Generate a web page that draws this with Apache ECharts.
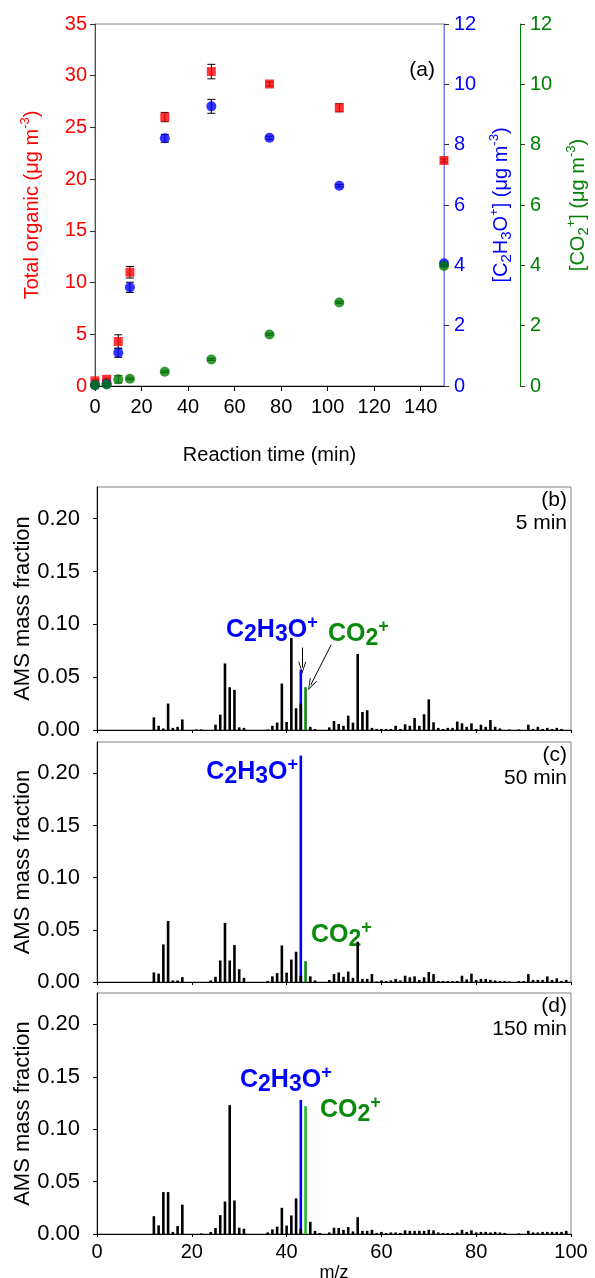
<!DOCTYPE html>
<html><head><meta charset="utf-8">
<script src="https://cdn.jsdelivr.net/npm/echarts@6/dist/echarts.min.js"></script>
<style>html,body{margin:0;padding:0;background:#fff}#c{width:595px;height:1278px}</style>
</head><body><div id="c"></div>
<script>
const FONT = 'Liberation Sans, Arial, sans-serif';

// ---- Panel (a) data ----
const timeMin = [0, 5, 10, 15, 30, 50, 75, 105, 150];
const totalOrganic = [0.5, 0.65, 4.3, 11.0, 26.0, 30.4, 29.2, 26.9, 21.8];
const totalOrganicErr = [0.1, 0.1, 0.65, 0.56, 0.45, 0.7, 0.2, 0.39, 0.15];
const c2h3oConc = [0.03, 0.07, 1.1, 3.27, 8.21, 9.27, 8.23, 6.64, 4.07];
const c2h3oErr = [0.03, 0.03, 0.15, 0.17, 0.13, 0.23, 0.05, 0.04, 0.04];
const co2Conc = [0.03, 0.05, 0.22, 0.24, 0.47, 0.88, 1.71, 2.77, 3.98];
const co2Err = [0.03, 0.03, 0.12, 0.03, 0.03, 0.03, 0.03, 0.03, 0.03];

// ---- Spectra data (m/z 12..99) ----
const mz = [12,13,14,15,16,17,18,19,20,21,
  22,23,24,25,26,27,28,29,30,31,
  32,33,34,35,36,37,38,39,40,41,
  42,43,44,45,46,47,48,49,50,51,
  52,53,54,55,56,57,58,59,60,61,
  62,63,64,65,66,67,68,69,70,71,
  72,73,74,75,76,77,78,79,80,81,
  82,83,84,85,86,87,88,89,90,91,
  92,93,94,95,96,97,98,99];
const other5min = [0.012,0.004,0.0015,0.025,0.002,0.003,0.010,0,0,0.0005,
  0.0005,0,0,0.005,0.0145,0.063,0.0405,0.038,0.0025,0.002,
  0,0,0,0,0.0005,0.004,0.007,0.044,0.0076,0.087,
  0.0206,0.025,0,0.003,0.001,0,0,0.0025,0.0085,0.0057,
  0.004,0.0136,0.007,0.072,0.017,0.0187,0.002,0.001,0.001,0.001,
  0.001,0.004,0.001,0.0054,0.004,0.0114,0.004,0.0149,0.029,0.0073,
  0.002,0.001,0.002,0.002,0.008,0.0063,0.003,0.0063,0.001,0.005,
  0.003,0.0095,0.003,0.0015,0,0.0005,0,0.0005,0,0.005,
  0.001,0.003,0.001,0.002,0.001,0.002,0.001,0];
const other50min = [0.0092,0.008,0.036,0.0585,0.0015,0.0015,0.0047,0,0,0,
  0,0,0.0015,0.005,0.0206,0.0566,0.0206,0.0354,0.0123,0.004,
  0,0,0,0,0.001,0.0054,0.0085,0.035,0.009,0.0215,
  0.029,0.006,0,0.0054,0.0015,0,0,0.002,0.0076,0.0092,
  0.005,0.010,0.004,0.0386,0.003,0.003,0.0076,0.0005,0.0015,0.001,
  0.0015,0.003,0.0015,0.006,0.0045,0.0054,0.002,0.0045,0.0095,0.0076,
  0.001,0.001,0.001,0.001,0.001,0.006,0.0025,0.008,0.002,0.003,
  0.003,0.002,0.0015,0.001,0.001,0.0005,0,0.001,0.001,0.0076,
  0.002,0.002,0.002,0.0054,0.002,0.0035,0.001,0.002];
const other150min = [0.017,0.0082,0.040,0.040,0.002,0.0076,0.028,0,0,0,
  0.0005,0,0.002,0.0057,0.018,0.031,0.123,0.032,0.006,0.005,
  0,0,0,0,0.0015,0.0044,0.007,0.025,0.008,0.0177,
  0.034,0.005,0,0.0117,0.003,0.001,0,0.0015,0.006,0.0057,
  0.004,0.0066,0.0025,0.016,0.003,0.003,0.004,0.001,0.002,0.001,
  0.0015,0.0015,0.001,0.0035,0.003,0.003,0.003,0.003,0.004,0.0035,
  0.0015,0.001,0.001,0.001,0.0015,0.004,0.002,0.0035,0.0015,0.002,
  0.002,0.0015,0.002,0.0015,0.001,0,0,0.0005,0,0.003,
  0.0015,0.0015,0.002,0.002,0.002,0.002,0.002,0.003];
const c2h3oFraction = [0.032, 0.211, 0.123];   // m/z 43, stacked on the other m/z 43 part
const co2Fraction = [0.0405, 0.020, 0.122];    // m/z 44
const c2h3oMz = 43, co2Mz = 44;
const panelTags = ['(b)', '(c)', '(d)'];
const panelTimes = ['5 min', '50 min', '150 min'];
const otherSpectra = [other5min, other50min, other150min];
const co2BarColors = ['#0a8a0a', '#0a8a0a', '#22bb22'];

const chart = echarts.init(document.getElementById('c'), null, {renderer: 'canvas'});

function errRender(params, api) {
  const x = api.value(0), y = api.value(1), e = api.value(2);
  const hi = api.coord([x, y + e]), lo = api.coord([x, y - e]);
  const w = 4, st = {stroke: '#000', lineWidth: 1};
  return {type: 'group', children: [
    {type: 'line', shape: {x1: hi[0], y1: hi[1], x2: lo[0], y2: lo[1]}, style: st},
    {type: 'line', shape: {x1: hi[0] - w, y1: hi[1], x2: hi[0] + w, y2: hi[1]}, style: st},
    {type: 'line', shape: {x1: lo[0] - w, y1: lo[1], x2: lo[0] + w, y2: lo[1]}, style: st}
  ]};
}
const zip = (a, b) => a.map((v, i) => [v, b[i]]);
const zip3 = (a, b, c) => a.map((v, i) => [v, b[i], c[i]]);

const supRich = (color) => ({
  sup: {fontSize: 13, lineHeight: 13, verticalAlign: 'top', color, fontFamily: FONT},
  sub: {fontSize: 15, lineHeight: 15, verticalAlign: 'bottom', color, fontFamily: FONT}
});

const grids = [
  {left: 95, top: 24, width: 349, height: 362},
  {left: 97, top: 487, width: 474, height: 243},
  {left: 97, top: 742, width: 474, height: 240},
  {left: 97, top: 993, width: 474, height: 241}
].map(g => Object.assign(g, {show: true, borderColor: '#808080', borderWidth: 1,
  backgroundColor: 'transparent', containLabel: false, outerBoundsMode: 'none'}));

const xAxes = [{
  gridIndex: 0, type: 'value', min: 0, max: 150, interval: 20,
  axisLine: {lineStyle: {color: '#000', width: 1}},
  axisTick: {length: 5, lineStyle: {color: '#000'}},
  axisLabel: {fontSize: 20, color: '#000', margin: 11, fontFamily: FONT, showMaxLabel: false},
  splitLine: {show: false},
  name: 'Reaction time (min)', nameLocation: 'middle', nameGap: 59,
  nameTextStyle: {fontSize: 20, color: '#000', fontFamily: FONT}
}];
for (let p = 0; p < 3; p++) {
  xAxes.push({
    gridIndex: p + 1, type: 'value', min: 0, max: 100, interval: 20,
    axisLine: {lineStyle: {color: '#000', width: 1}},
    axisTick: {length: 3, lineStyle: {color: '#000'}},
    axisLabel: {show: p === 2, fontSize: 20, color: '#000', margin: 8, fontFamily: FONT},
    splitLine: {show: false},
    name: p === 2 ? 'm/z' : '', nameLocation: 'middle', nameGap: 30,
    nameTextStyle: {fontSize: 18, color: '#000', fontFamily: FONT}
  });
}

const yAxes = [
  {gridIndex: 0, type: 'value', position: 'left', min: 0, max: 35, interval: 5,
   axisLine: {show: true, lineStyle: {color: '#ff0000', width: 1}},
   axisTick: {show: true, length: 5, lineStyle: {color: '#333'}},
   axisLabel: {fontSize: 20, color: '#ff0000', margin: 8, fontFamily: FONT},
   splitLine: {show: false},
   name: 'Total organic (μg m{sup|-3})', nameLocation: 'middle', nameGap: 50,
   nameTextStyle: {fontSize: 20, color: '#ff0000', fontFamily: FONT, lineHeight: 26, rich: supRich('#ff0000')}},
  {gridIndex: 0, type: 'value', position: 'right', min: 0, max: 12, interval: 2,
   axisLine: {show: true, lineStyle: {color: '#8080ff', width: 1}},
   axisTick: {show: true, length: 5, lineStyle: {color: '#333'}},
   axisLabel: {fontSize: 20, color: '#0000ff', margin: 10, fontFamily: FONT},
   splitLine: {show: false},
   name: '[C{sub|2}H{sub|3}O{sup|+}] (μg m{sup|-3})', nameLocation: 'middle', nameGap: 44, nameRotate: 90,
   nameTextStyle: {fontSize: 20, color: '#0000ff', fontFamily: FONT, lineHeight: 26, rich: supRich('#0000ff')}},
  {gridIndex: 0, type: 'value', position: 'right', offset: 76, min: 0, max: 12, interval: 2,
   axisLine: {show: true, lineStyle: {color: '#008000', width: 1}},
   axisTick: {show: true, length: 5, lineStyle: {color: '#333'}},
   axisLabel: {fontSize: 20, color: '#008000', margin: 10, fontFamily: FONT},
   splitLine: {show: false},
   name: '[CO{sub|2}{sup|+}] (μg m{sup|-3})', nameLocation: 'middle', nameGap: 45, nameRotate: 90,
   nameTextStyle: {fontSize: 20, color: '#008000', fontFamily: FONT, lineHeight: 26, rich: supRich('#008000')}}
];
for (let p = 0; p < 3; p++) {
  yAxes.push({
    gridIndex: p + 1, type: 'value', min: 0, max: 0.23, interval: 0.05,
    axisLine: {show: true, lineStyle: {color: '#000', width: 1}},
    axisTick: {show: true, length: 4, lineStyle: {color: '#000'}},
    axisLabel: {fontSize: 22, color: '#000', margin: 17, fontFamily: FONT, showMaxLabel: false,
      formatter: v => v.toFixed(2)},
    splitLine: {show: false},
    name: 'AMS mass fraction', nameLocation: 'middle', nameGap: 63, nameMoveOverlap: false,
    nameTextStyle: {fontSize: 22, color: '#000', fontFamily: FONT}
  });
}

const series = [
  {type: 'custom', xAxisIndex: 0, yAxisIndex: 0, renderItem: errRender, data: zip3(timeMin, totalOrganic, totalOrganicErr), z: 2, clip: false, encode: {x: 0, y: 1}},
  {type: 'custom', xAxisIndex: 0, yAxisIndex: 1, renderItem: errRender, data: zip3(timeMin, c2h3oConc, c2h3oErr), z: 2, clip: false, encode: {x: 0, y: 1}},
  {type: 'custom', xAxisIndex: 0, yAxisIndex: 2, renderItem: errRender, data: zip3(timeMin, co2Conc, co2Err), z: 2, clip: false, encode: {x: 0, y: 1}},
  {type: 'scatter', xAxisIndex: 0, yAxisIndex: 0, symbol: 'rect', symbolSize: 9, itemStyle: {color: '#ff0000'}, data: zip(timeMin, totalOrganic), z: 3, clip: false},
  {type: 'scatter', xAxisIndex: 0, yAxisIndex: 1, symbol: 'circle', symbolSize: 10, itemStyle: {color: '#0000ff'}, data: zip(timeMin, c2h3oConc), z: 4, clip: false},
  {type: 'scatter', xAxisIndex: 0, yAxisIndex: 2, symbol: 'circle', symbolSize: 10, itemStyle: {color: '#008000'}, data: zip(timeMin, co2Conc), z: 5, clip: false}
];

const openArrow = 'path://M5,0 L0,12 L1.2,12 L5,2.5 L8.8,12 L10,12 Z';
for (let p = 0; p < 3; p++) {
  const other = otherSpectra[p];
  // blue bar spans the whole m/z 43 peak; the black (other) part is drawn over its lower portion
  const blueData = mz.map((m, i) => [m, m === c2h3oMz ? other[i] + c2h3oFraction[p] : 0]);
  const greenData = mz.map(m => [m, m === co2Mz ? co2Fraction[p] : 0]);
  series.push({type: 'bar', xAxisIndex: p + 1, yAxisIndex: p + 3, barWidth: 2.6, barGap: '-100%', z: 2,
    itemStyle: {color: '#0000ff'}, data: blueData, silent: true});
  series.push({type: 'bar', xAxisIndex: p + 1, yAxisIndex: p + 3, barWidth: 2.6, barGap: '-100%', z: 2,
    itemStyle: {color: co2BarColors[p]}, data: greenData, silent: true});
  const blackSeries = {
    type: 'bar', xAxisIndex: p + 1, yAxisIndex: p + 3, barWidth: 2.6, barGap: '-100%', z: 3,
    itemStyle: {color: '#000'}, data: zip(mz, other), silent: true
  };
  if (p === 0) {
    blackSeries.markLine = {
      silent: true, symbol: ['none', openArrow], symbolSize: [8, 12],
      lineStyle: {color: '#000', width: 1, type: 'solid'}, label: {show: false},
      data: [
        [{coord: [43.3, 0.078]}, {coord: [43.3, 0.059]}],
        [{coord: [49.4, 0.0806]}, {coord: [45.1, 0.0427]}]
      ]
    };
  }
  series.push(blackSeries);
}

function formulaRich(color) {
  return {
    m: {fontSize: 25, fontWeight: 'bold', fill: color, color, fontFamily: FONT, lineHeight: 32},
    s: {fontSize: 23, fontWeight: 'bold', fill: color, color, fontFamily: FONT, lineHeight: 23, verticalAlign: 'bottom'},
    p: {fontSize: 18, fontWeight: 'bold', fill: color, color, fontFamily: FONT, lineHeight: 18, verticalAlign: 'top'}
  };
}
const acetylText = '{m|C}{s|2}{m|H}{s|3}{m|O}{p|+}';
const co2Text = '{m|CO}{s|2}{p|+}';
const labelPos = [
  {acx: 226, acy: 630, acAlign: 'left', cox: 328, coy: 634, top: 487},
  {acx: 298, acy: 772, acAlign: 'right', cox: 311, coy: 935, top: 742},
  {acx: 240, acy: 1080, acAlign: 'left', cox: 320, coy: 1110, top: 993}
];
const graphic = [
  {type: 'text', style: {x: 435, y: 70, text: '(a)', textAlign: 'right', textVerticalAlign: 'middle', fontSize: 21, fill: '#000', fontFamily: FONT}}
];
for (let p = 0; p < 3; p++) {
  const L = labelPos[p];
  graphic.push({type: 'text', style: {x: 567, y: L.top + 13, text: panelTags[p], textAlign: 'right', textVerticalAlign: 'middle', fontSize: 21, fill: '#000', fontFamily: FONT}});
  graphic.push({type: 'text', style: {x: 567, y: L.top + 36, text: panelTimes[p], textAlign: 'right', textVerticalAlign: 'middle', fontSize: 21, fill: '#000', fontFamily: FONT}});
  graphic.push({type: 'text', style: {x: L.acx, y: L.acy, text: acetylText, fill: '#0000ff', textAlign: L.acAlign, textVerticalAlign: 'middle', rich: formulaRich('#0000ff')}});
  graphic.push({type: 'text', style: {x: L.cox, y: L.coy, text: co2Text, fill: '#0a8a0a', textAlign: 'left', textVerticalAlign: 'middle', rich: formulaRich('#0a8a0a')}});
}

chart.setOption({
  animation: false,
  backgroundColor: '#fff',
  textStyle: {fontFamily: FONT},
  grid: grids,
  xAxis: xAxes,
  yAxis: yAxes,
  series: series,
  graphic: graphic
});
</script></body></html>
